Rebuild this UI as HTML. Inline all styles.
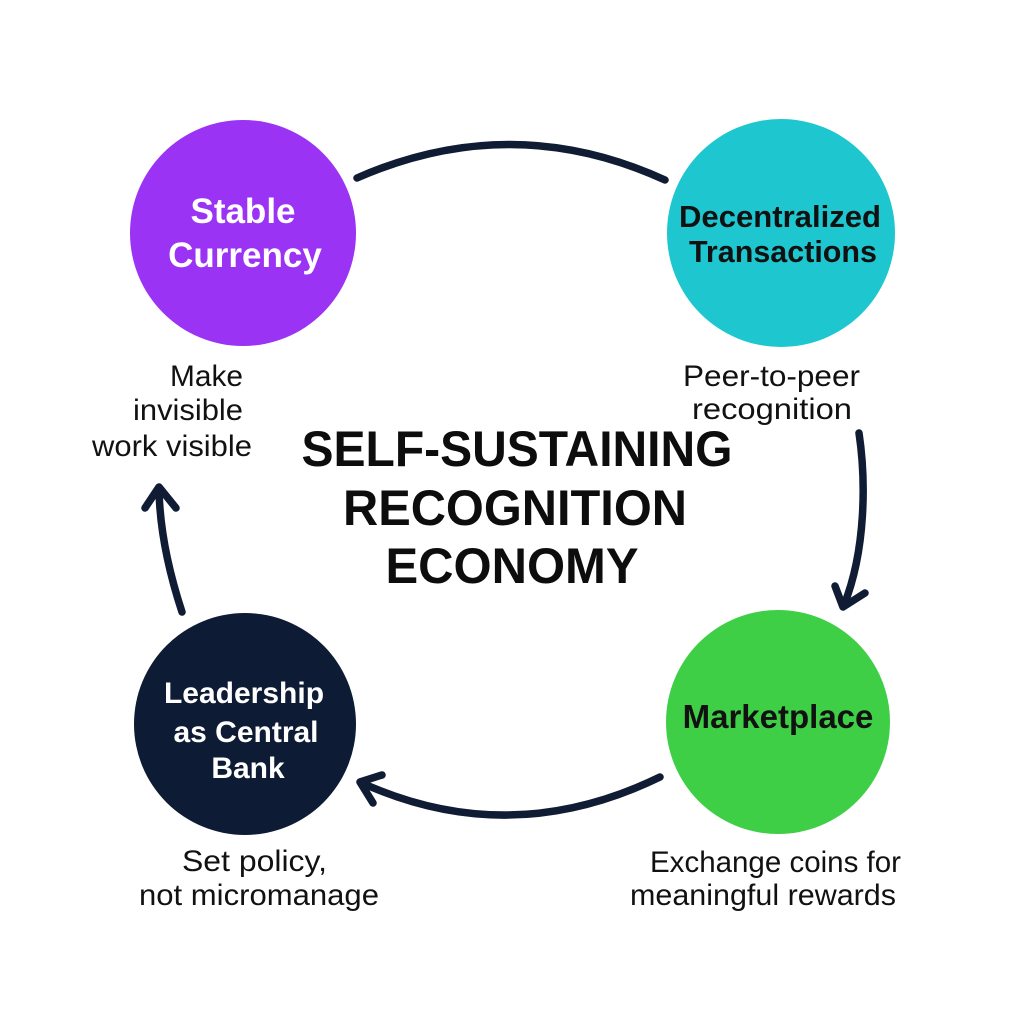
<!DOCTYPE html>
<html>
<head>
<meta charset="utf-8">
<style>
  html, body { margin: 0; padding: 0; background: #ffffff; }
  body { width: 1024px; height: 1024px; overflow: hidden; }
  svg { display: block; }
  .node { font-family: "Liberation Sans", "DejaVu Sans", sans-serif; font-weight: bold; }
  .lbl { font-family: "Liberation Sans", "DejaVu Sans", sans-serif; font-size: 30px; fill: #111; }
  .title { font-family: "Liberation Sans", "DejaVu Sans", sans-serif; font-weight: bold; font-size: 50px; fill: #0d0d0d; }
</style>
</head>
<body>
<svg width="1024" height="1024" viewBox="0 0 1024 1024" xmlns="http://www.w3.org/2000/svg">
  <rect width="1024" height="1024" fill="#ffffff"/>

  <!-- connectors -->
  <g fill="none" stroke="#0f1c34" stroke-width="7.5" stroke-linecap="round" stroke-linejoin="round">
    <!-- top arc (no head) -->
    <path d="M357,178 Q512,110 665,180"/>
    <!-- right arc down -->
    <path d="M859,433 C866,480 866,550 844,605"/>
    <path d="M835,586 L843,607 L865,593"/>
    <!-- bottom arc to left -->
    <path d="M660,777 Q510,850 362,783"/>
    <path d="M382,775 L360,782 L373,803"/>
    <!-- left arc up -->
    <path d="M182,612 Q160,545 159,489"/>
    <path d="M145,508 L159,487 L176,508"/>
  </g>

  <!-- circles -->
  <circle cx="243" cy="233" r="113" fill="#9b33f4"/>
  <circle cx="781" cy="233" r="114" fill="#1ec6d0"/>
  <circle cx="245" cy="724" r="111" fill="#0e1b34"/>
  <circle cx="778" cy="722" r="112" fill="#3fcf47"/>

  <!-- node labels -->
  <text class="node" x="243" y="223" font-size="35" fill="#ffffff" text-anchor="middle">Stable</text>
  <text class="node" x="245" y="267" font-size="35" fill="#ffffff" text-anchor="middle">Currency</text>

  <text class="node" x="780" y="227" font-size="31" fill="#111111" text-anchor="middle" textLength="202" lengthAdjust="spacingAndGlyphs">Decentralized</text>
  <text class="node" x="783" y="262" font-size="31" fill="#111111" text-anchor="middle" textLength="188" lengthAdjust="spacingAndGlyphs">Transactions</text>

  <text class="node" x="244" y="703" font-size="30" fill="#ffffff" text-anchor="middle">Leadership</text>
  <text class="node" x="246" y="742" font-size="30" fill="#ffffff" text-anchor="middle">as Central</text>
  <text class="node" x="248" y="778" font-size="30" fill="#ffffff" text-anchor="middle">Bank</text>

  <text class="node" x="778" y="728" font-size="33" fill="#111111" text-anchor="middle">Marketplace</text>

  <!-- center title -->
  <text class="title" x="517" y="466" text-anchor="middle" textLength="431" lengthAdjust="spacingAndGlyphs">SELF-SUSTAINING</text>
  <text class="title" x="515" y="525" text-anchor="middle" textLength="344" lengthAdjust="spacingAndGlyphs">RECOGNITION</text>
  <text class="title" x="512" y="583" text-anchor="middle" textLength="253" lengthAdjust="spacingAndGlyphs">ECONOMY</text>

  <!-- descriptions -->
  <text class="lbl" x="170" y="386" textLength="73" lengthAdjust="spacingAndGlyphs">Make</text>
  <text class="lbl" x="133" y="420" textLength="110" lengthAdjust="spacingAndGlyphs">invisible</text>
  <text class="lbl" x="92" y="456" textLength="160" lengthAdjust="spacingAndGlyphs">work visible</text>

  <text class="lbl" x="683" y="386" textLength="177" lengthAdjust="spacingAndGlyphs">Peer-to-peer</text>
  <text class="lbl" x="692" y="419" textLength="160" lengthAdjust="spacingAndGlyphs">recognition</text>

  <text class="lbl" x="182" y="871" textLength="145" lengthAdjust="spacingAndGlyphs">Set policy,</text>
  <text class="lbl" x="139" y="905" textLength="240" lengthAdjust="spacingAndGlyphs">not micromanage</text>

  <text class="lbl" x="650" y="872" textLength="251" lengthAdjust="spacingAndGlyphs">Exchange coins for</text>
  <text class="lbl" x="630" y="905" textLength="266" lengthAdjust="spacingAndGlyphs">meaningful rewards</text>
</svg>
</body>
</html>
